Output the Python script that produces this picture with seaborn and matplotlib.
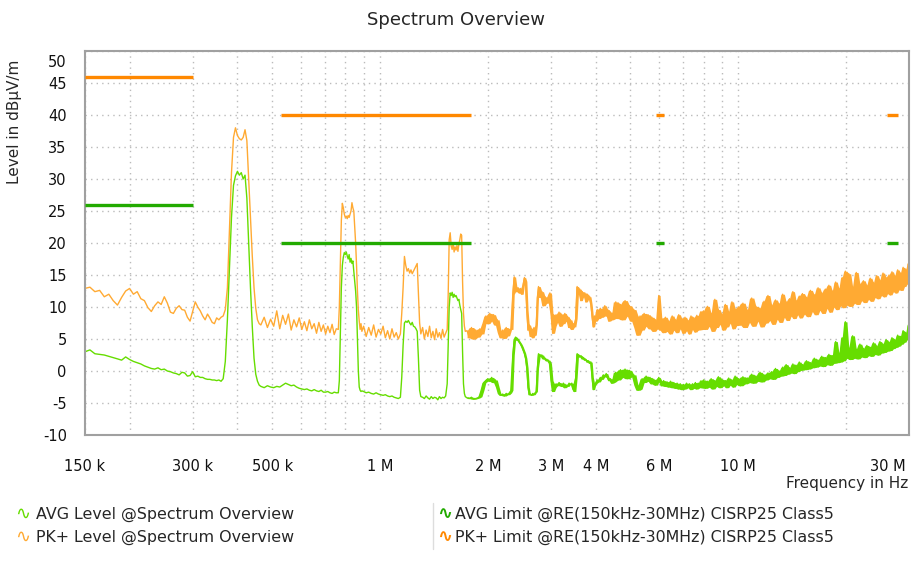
import matplotlib
matplotlib.use("Agg")
import matplotlib.pyplot as plt
import matplotlib.transforms as mtransforms
from matplotlib.ticker import FixedLocator, LogLocator, NullFormatter
import pandas as pd
import seaborn as sns

# spectrum trace (frequency in MHz, level in dBuV/m)
freq_mhz = [
    # 150 k .. 370 k
    0.150, 0.155, 0.160, 0.165, 0.170, 0.175, 0.180, 0.185, 0.190, 0.195,
    0.200, 0.205, 0.210, 0.215, 0.220, 0.225, 0.230, 0.235, 0.240, 0.245,
    0.250, 0.255, 0.260, 0.265, 0.270, 0.275, 0.280, 0.285, 0.290, 0.295,
    0.300, 0.305, 0.310, 0.315, 0.320, 0.325, 0.330, 0.335, 0.340, 0.345,
    0.350, 0.355, 0.360, 0.365, 0.370,
    # first carrier
    0.375, 0.380, 0.385, 0.390, 0.395, 0.400, 0.405, 0.410, 0.415, 0.420,
    0.425, 0.430, 0.435, 0.440, 0.445, 0.450, 0.455, 0.460,
    0.465, 0.475, 0.485, 0.495, 0.505, 0.515, 0.525, 0.535, 0.545, 0.555,
    0.565, 0.575, 0.585, 0.595, 0.605, 0.615, 0.625, 0.635, 0.645, 0.655,
    0.665, 0.675, 0.685, 0.695, 0.705, 0.715, 0.725, 0.735, 0.745, 0.755,
    # second carrier
    0.765, 0.770, 0.775, 0.780, 0.785, 0.790, 0.795, 0.800, 0.805, 0.810,
    0.815, 0.820, 0.825, 0.830, 0.835, 0.840, 0.845, 0.850, 0.855, 0.860,
    0.865, 0.870, 0.875, 0.880, 0.885, 0.890,
    0.900, 0.915, 0.930, 0.945, 0.960, 0.975, 0.990, 1.005, 1.020, 1.035,
    1.050, 1.065, 1.080, 1.095, 1.110, 1.125, 1.140, 1.150,
    # third carrier
    1.160, 1.170, 1.180, 1.190, 1.200, 1.210, 1.220, 1.230, 1.240, 1.250,
    1.260, 1.270, 1.280, 1.290, 1.300,
    1.315, 1.330, 1.345, 1.360, 1.375, 1.390, 1.405, 1.420, 1.435, 1.450,
    1.465, 1.480, 1.495, 1.510, 1.525, 1.540,
    # fourth carrier
    1.550, 1.560, 1.570, 1.580, 1.590, 1.600, 1.610, 1.620, 1.630, 1.640,
    1.650, 1.660, 1.670, 1.680, 1.690, 1.700, 1.710, 1.720, 1.730,
    1.750, 1.775, 1.800, 1.825, 1.850, 1.875, 1.900, 1.925, 1.950, 1.975,
    2.000, 2.025, 2.050, 2.075, 2.100, 2.125, 2.150, 2.175, 2.200, 2.225,
    2.250, 2.275, 2.300,
    2.330, 2.350, 2.370, 2.390, 2.410, 2.430, 2.450, 2.470, 2.490, 2.510,
    2.530, 2.550, 2.570, 2.590, 2.610, 2.630, 2.650, 2.670, 2.690, 2.710,
    2.730, 2.750,
    2.770, 2.800, 2.830, 2.860, 2.890, 2.920, 2.950, 2.980, 3.010, 3.040,
    3.070, 3.100, 3.130, 3.160, 3.190, 3.220, 3.250, 3.280, 3.310, 3.340,
    3.370, 3.400, 3.430, 3.460, 3.490, 3.520,
    3.550, 3.580, 3.610, 3.640, 3.670, 3.700, 3.730, 3.760, 3.790, 3.820,
    3.850, 3.880, 3.910, 3.940, 3.970, 4.000, 4.040, 4.080, 4.120, 4.160,
    4.200, 4.240, 4.280, 4.320, 4.360, 4.400, 4.440, 4.480,
    4.550, 4.620, 4.690, 4.760, 4.830, 4.900, 4.970, 5.040, 5.110, 5.180,
    5.250, 5.320, 5.390, 5.460, 5.530, 5.600, 5.670, 5.740, 5.810, 5.880,
    5.950, 6.000, 6.050, 6.120, 6.190, 6.260, 6.330, 6.400, 6.470, 6.540,
    6.610, 6.680, 6.750, 6.820, 6.890, 6.960, 7.030, 7.100, 7.170, 7.240,
    7.310, 7.380, 7.450, 7.520, 7.590, 7.660, 7.730, 7.800,
    # 8 .. 30 MHz
    8.0, 8.1, 8.2, 8.3, 8.4, 8.5, 8.6, 8.7, 8.8, 8.9,
    9.0, 9.1, 9.2, 9.3, 9.4, 9.5, 9.6, 9.7, 9.8, 9.9,
    10.0,
    10.15, 10.30, 10.45, 10.60, 10.75, 10.90, 11.05, 11.20, 11.35, 11.50,
    11.65, 11.80, 11.95, 12.10, 12.25, 12.40, 12.55, 12.70, 12.85, 13.00,
    13.15, 13.30, 13.45, 13.60, 13.75, 13.90, 14.05, 14.20, 14.35, 14.50,
    14.65, 14.80, 14.95, 15.10,
    15.3, 15.5, 15.7, 15.9, 16.1, 16.3, 16.5, 16.7, 16.9, 17.1,
    17.3, 17.5, 17.7, 17.9, 18.1, 18.3, 18.5, 18.7, 18.9, 19.1,
    19.3, 19.5, 19.7, 19.9, 20.1,
    20.35, 20.60, 20.85, 21.10, 21.35, 21.60, 21.85, 22.10, 22.35, 22.60,
    22.85, 23.10, 23.35, 23.60, 23.85, 24.10, 24.35, 24.60, 24.85, 25.10,
    25.35, 25.60, 25.85, 26.10, 26.35, 26.60, 26.85, 27.10, 27.35, 27.60,
    27.85, 28.10, 28.35, 28.60, 28.85, 29.10, 29.35, 29.60, 29.85, 30.00,
]

pk_level = [
    12.9, 13.1, 12.4, 12.6, 11.6, 12.0, 11.0, 10.3, 11.5, 12.5,
    12.9, 12.0, 12.4, 11.3, 11.0, 9.9, 9.3, 10.2, 10.8, 10.4,
    11.6, 10.6, 9.2, 9.0, 9.8, 10.2, 9.6, 9.5, 8.4, 7.8,
    9.3, 10.8, 10.0, 9.4, 8.6, 8.0, 8.9, 8.3, 7.6, 7.4,
    8.3, 8.0, 8.4, 8.6, 9.6,
    13.0, 22.0, 31.0, 36.5, 38.0, 36.8, 36.3, 36.1, 36.5, 37.7,
    36.0, 30.0, 24.0, 18.0, 13.0, 9.8, 8.0, 7.4,
    7.2, 8.4, 6.8, 8.1, 7.0, 9.4, 6.6, 8.7, 7.3, 8.9,
    6.4, 8.0, 6.9, 8.3, 6.5, 7.7, 6.3, 8.0, 6.6, 7.4,
    5.9, 7.6, 6.2, 7.2, 5.8, 7.0, 6.0, 7.3, 5.7, 6.6,
    6.5, 10.0, 17.0, 23.5, 26.2, 25.5, 24.5, 24.0, 24.2, 23.8,
    24.3, 24.0, 24.5, 25.0, 26.3, 25.5, 25.0, 22.5, 20.0, 16.5,
    12.5, 9.5, 7.8, 6.5, 7.4, 6.2,
    7.0, 5.4, 6.8, 5.6, 7.2, 5.3, 6.5, 5.8, 7.0, 5.2,
    6.3, 5.0, 6.6, 5.3, 6.0, 5.0, 5.8, 9.0,
    13.0, 17.9, 16.5, 15.6, 16.0, 15.3, 15.8, 15.2, 15.6, 16.0,
    16.4, 16.8, 12.0, 7.5, 5.8,
    6.8, 5.0, 6.4, 5.4, 7.0, 5.2, 6.2, 4.9, 6.6, 5.3,
    6.0, 5.1, 6.5, 5.3, 5.9, 6.5,
    12.0, 20.5, 21.6, 19.5, 19.0, 20.0, 18.6, 19.4, 18.9, 19.6,
    18.7, 19.8, 20.5, 21.4, 21.2, 14.0, 9.0, 7.0, 6.2,
    6.3, 5.2, 6.8, 5.0, 6.4, 5.3, 6.6, 5.8, 7.5, 8.6,
    7.4, 9.0, 7.8, 8.8, 7.2, 8.0, 6.0, 5.2, 6.4, 5.1,
    6.8, 5.5, 6.5,
    6.5, 12.0, 14.7, 13.2, 12.4, 13.0, 12.2, 12.9, 12.0, 13.5,
    14.6, 14.0, 9.5, 6.4, 7.2, 5.4, 6.6, 5.2, 6.8, 5.6,
    7.2, 11.5,
    13.2, 11.5, 12.4, 10.2, 11.6, 10.6, 11.0, 12.2, 9.0, 5.9,
    7.0, 8.8, 7.6, 9.2, 7.0, 8.8, 7.4, 9.0, 7.8, 8.5,
    6.8, 8.0, 6.5, 7.4, 6.9, 8.2,
    13.2, 12.0, 12.8, 11.0, 12.4, 11.6, 12.2, 10.8, 12.0, 11.2,
    11.6, 10.4, 8.5, 6.9, 8.6, 7.8, 9.6, 8.2, 9.8, 8.4,
    9.0, 10.2, 8.6, 9.6, 7.8, 9.2, 8.0, 8.5,
    10.8, 8.2, 10.4, 8.0, 11.0, 8.6, 10.2, 7.8, 9.6, 6.8,
    5.6, 8.6, 6.4, 9.0, 7.0, 8.8, 6.6, 8.4, 6.2, 8.0,
    6.6, 11.8, 6.4, 8.2, 6.0, 8.4, 6.2, 7.8, 5.8, 8.6,
    6.4, 8.0, 6.0, 8.8, 6.6, 8.2, 5.9, 8.4, 6.3, 7.9,
    5.8, 8.6, 6.5, 8.3, 6.1, 8.7, 6.4, 8.2,
    9.4, 6.5, 10.1, 7.0, 9.0, 6.2, 11.2, 6.8, 9.6, 7.3,
    8.9, 6.4, 10.4, 6.9, 9.3, 7.5, 10.8, 6.6, 9.7, 7.1,
    10.0,
    7.2, 10.6, 6.8, 9.5, 7.6, 11.4, 7.0, 10.1, 7.8, 9.8,
    6.9, 10.9, 7.5, 11.8, 7.9, 10.3, 7.3, 11.1, 8.1, 10.5,
    7.6, 12.0, 8.4, 10.8, 7.9, 11.3, 8.6, 12.4, 8.2, 11.0,
    8.8, 11.7, 8.3, 12.1,
    8.9, 11.5, 8.5, 12.6, 9.3, 11.9, 8.8, 13.0, 9.5, 12.2,
    9.0, 12.8, 9.8, 13.4, 9.2, 12.5, 10.0, 13.9, 9.6, 12.9,
    10.2, 14.6, 9.9, 15.6, 10.3,
    15.2, 10.1, 13.2, 10.6, 15.4, 10.4, 13.6, 11.0, 14.1, 10.7,
    13.4, 11.2, 14.5, 10.9, 13.8, 11.5, 14.9, 11.3, 14.2, 11.8,
    15.3, 11.6, 14.6, 12.1, 15.0, 11.9, 15.5, 12.4, 14.9, 12.2,
    15.8, 12.7, 15.3, 12.6, 16.2, 13.2, 15.9, 13.6, 16.8, 15.6,
]

avg_level = [
    3.0, 3.3, 2.7, 2.6, 2.5, 2.3, 2.1, 1.9, 1.7, 2.2,
    1.8, 1.5, 1.3, 1.1, 0.8, 0.6, 0.4, 0.3, 0.5, 0.2,
    0.3, 0.0, -0.1, -0.3, -0.4, -0.6, -0.2, -0.3, -0.8, -0.7,
    -0.1, -0.9, -0.8, -1.0, -1.0, -1.2, -1.3, -1.3, -1.4, -1.4,
    -1.5, -1.4, -1.6, -1.2, 1.5,
    8.0, 16.0, 24.0, 29.0, 30.5, 31.2, 30.6, 31.0, 30.0, 30.6,
    27.0, 20.0, 13.0, 7.0, 2.0, -0.5, -1.6, -2.2,
    -2.4, -2.6, -2.3, -2.5, -2.6, -2.4, -2.5, -2.2, -1.9, -2.1,
    -2.3, -2.2, -2.5, -2.7, -2.8, -2.9, -2.8, -3.0, -3.1, -2.9,
    -3.1, -3.2, -3.0, -3.3, -3.3, -3.2, -3.4, -3.5, -3.3, -3.4,
    -3.4, -1.5, 6.0, 13.0, 16.5, 17.8, 18.5, 18.2, 18.6, 18.0,
    17.5, 18.2, 17.0, 17.6, 16.8, 17.2, 15.5, 14.0, 12.5, 10.0,
    5.0, 0.0, -2.5, -3.0, -3.2, -3.1,
    -3.2, -3.4, -3.3, -3.5, -3.6, -3.4, -3.6, -3.7, -3.8, -3.7,
    -3.9, -4.0, -3.9, -4.1, -4.2, -4.3, -4.1, -1.0,
    4.0, 7.5, 7.8, 7.6, 7.9, 7.5, 7.2, 7.6, 7.0, 6.9,
    6.6, 6.2, 2.0, -3.0, -4.0,
    -4.1, -4.3, -3.9, -4.2, -4.4, -4.0, -4.3, -4.1, -4.2, -4.5,
    -4.0, -4.3, -4.1, -4.2, -3.9, -2.0,
    4.0, 10.0, 12.2, 11.8, 12.3, 11.5, 12.0, 11.6, 11.8, 11.4,
    11.0, 11.2, 10.3, 9.6, 9.0, 3.0, -2.0, -3.5, -4.0,
    -4.2, -4.3, -4.1, -4.4, -4.3, -4.2, -4.0, -3.0, -1.8, -1.5,
    -1.2, -1.6, -1.0, -1.8, -1.4, -2.5, -3.5, -3.8, -3.6, -3.9,
    -3.5, -3.7, -3.4,
    -3.0, 2.5, 4.8, 5.3, 5.1, 4.8, 4.5, 4.2, 3.8, 3.3,
    2.8, 2.0, 0.5, -2.5, -3.7, -3.6, -3.8, -3.5, -3.7, -3.4,
    -3.2, 0.5,
    2.7, 2.3, 2.5, 1.9, 2.0, 1.6, 1.7, 1.2, -1.5, -3.2,
    -2.6, -2.0, -2.3, -1.8, -2.1, -2.4, -1.9, -2.6, -2.2, -2.4,
    -1.9, -2.1, -1.9, -2.8, -3.2, -1.0,
    2.7, 2.5, 2.2, 2.4, 1.9, 2.1, 1.7, 1.8, 1.4, 1.6,
    1.2, 1.4, -1.0, -2.9, -2.2, -1.9, -1.4, -1.7, -1.0, -1.3,
    -0.6, -0.9, -0.4, -1.0, -1.5, -1.2, -1.9, -1.7,
    -0.2, -1.4, 0.2, -1.0, 0.3, -1.2, 0.1, -0.9, -0.6, -2.2,
    -3.0, -2.8, -1.2, -1.8, -0.8, -1.6, -1.0, -2.0, -1.3, -2.2,
    -1.6, -1.0, -1.7, -2.3, -1.5, -2.4, -1.7, -2.5, -1.6, -2.6,
    -1.8, -2.7, -1.9, -2.8, -2.0, -2.9, -2.1, -2.8, -1.9, -2.6,
    -2.0, -2.9, -2.0, -2.7, -1.8, -2.8, -1.9, -2.6,
    -1.4, -2.7, -1.6, -2.5, -1.2, -2.8, -1.5, -2.4, -0.9, -2.6,
    -1.3, -2.3, -1.5, -2.6, -1.1, -2.2, -1.4, -2.5, -0.8, -2.1,
    -1.2,
    -2.3, -0.9, -2.0, -1.1, -1.8, -0.5, -1.9, -0.8, -1.6, -0.2,
    -1.7, -0.6, -1.4, -0.3, -1.2, -0.1, -1.3, 0.4, -1.0, 0.0,
    -0.8, 0.6, -0.7, 1.0, -0.5, 0.5, -0.3, 1.1, -0.4, 0.9,
    -0.1, 1.4, 0.1, 1.0,
    0.2, 1.6, 0.3, 1.3, 0.5, 2.0, 0.6, 1.7, 0.8, 2.3,
    0.7, 2.1, 1.0, 2.6, 0.9, 2.4, 1.2, 4.6, 1.3, 2.8,
    1.4, 5.2, 1.6, 7.7, 2.0,
    3.6, 1.8, 5.5, 2.0, 3.4, 1.9, 4.2, 2.2, 3.5, 2.1,
    4.0, 2.4, 3.7, 2.3, 4.4, 2.6, 3.9, 2.5, 4.6, 2.8,
    4.2, 2.9, 4.9, 3.1, 4.5, 3.2, 5.2, 3.5, 4.9, 3.7,
    5.6, 3.9, 5.4, 4.2, 6.3, 4.5, 6.0, 4.9, 7.2, 5.6,
]

# CISPR 25 class 5 limit bands
limit_start_mhz = [0.15, 0.53, 5.9, 26.0]
limit_stop_mhz = [0.30, 1.80, 6.2, 28.0]
pk_limit = [46, 40, 40, 40]
avg_limit = [26, 20, 20, 20]

xtick_hz = [150e3, 300e3, 500e3, 1e6, 2e6, 3e6, 4e6, 6e6, 10e6, 30e6]
xtick_labels = ["150 k", "300 k", "500 k", "1 M", "2 M", "3 M", "4 M", "6 M", "10 M", "30 M"]
ytick_vals = list(range(-10, 51, 5))

legend_labels = ["AVG Level @Spectrum Overview",
                 "PK+ Level @Spectrum Overview",
                 "AVG Limit @RE(150kHz-30MHz) CISRP25 Class5",
                 "PK+ Limit @RE(150kHz-30MHz) CISRP25 Class5"]

AVG_C = "#66dd00"
PK_C = "#ffaa33"
AVG_LIM_C = "#22aa00"
PK_LIM_C = "#ff8800"
GRID_C = "#bbbbbb"
FRAME_C = "#a0a0a0"

assert len(freq_mhz) == len(pk_level) == len(avg_level)

sns.set_style("white")
plt.rcParams["font.family"] = ["DejaVu Sans"]

df = pd.DataFrame({"freq": [f * 1e6 for f in freq_mhz], "pk": pk_level, "avg": avg_level})

fig = plt.figure(figsize=(9.24, 5.66), dpi=100)
ax = fig.add_axes([0.0918, 0.2314, 0.8922, 0.6785])
ax.set_xscale("log")

sns.lineplot(data=df, x="freq", y="pk", color=PK_C, lw=1.0, estimator=None, sort=False, ax=ax)
sns.lineplot(data=df, x="freq", y="avg", color=AVG_C, lw=1.0, estimator=None, sort=False, ax=ax)

# above ~1.75 MHz the trace is a dense band: close the gaps between neighbouring samples
dense = df["freq"] >= 1.75e6
for col, c in (("pk", PK_C), ("avg", AVG_C)):
    hi_env = df[col].rolling(3, center=True, min_periods=1).max()
    lo_env = df[col].rolling(3, center=True, min_periods=1).min()
    ax.fill_between(df["freq"], lo_env, hi_env, where=dense, color=c, lw=0)

lo = [f * 1e6 for f in limit_start_mhz]
hi = [f * 1e6 for f in limit_stop_mhz]
ax.hlines(pk_limit, lo, hi, color=PK_LIM_C, lw=2.4, zorder=4)
ax.hlines(avg_limit, lo, hi, color=AVG_LIM_C, lw=2.4, zorder=4)

ax.set_xlim(150e3, 30e6)
ax.set_ylim(-10, 50)

ax.xaxis.set_major_locator(FixedLocator(xtick_hz))
ax.set_xticklabels(xtick_labels)
ax.xaxis.set_minor_locator(LogLocator(base=10, subs=range(1, 10), numticks=20))
ax.xaxis.set_minor_formatter(NullFormatter())
ax.set_yticks(ytick_vals)
ax.set_yticklabels([str(v) for v in ytick_vals])

ax.grid(True, which="both", axis="x", color=GRID_C, lw=1.0, linestyle=(0, (1, 3)))
ax.grid(True, which="major", axis="y", color=GRID_C, lw=1.0, linestyle=(0, (1, 3)))
ax.set_axisbelow(True)

ax.tick_params(axis="both", which="major", direction="out", length=9, width=1.2,
               color=FRAME_C, labelsize=10.5, labelcolor="#111111")
ax.tick_params(axis="x", which="major", pad=8)
ax.tick_params(axis="y", which="major", pad=4)
ax.tick_params(axis="x", which="minor", length=0)
for s in ax.spines.values():
    s.set_color(FRAME_C)
    s.set_linewidth(1.5)

# last x label hugs the right edge, top y label sits a bit low
xl = ax.get_xticklabels()[-1]
xl.set_ha("right")
xl.set_transform(xl.get_transform() + mtransforms.ScaledTranslation(-0.04, 0, fig.dpi_scale_trans))
yl = ax.get_yticklabels()[-1]
yl.set_transform(yl.get_transform() + mtransforms.ScaledTranslation(0, -0.1, fig.dpi_scale_trans))

ax.set_xlabel("")
ax.set_ylabel("")

fig.text(0.4935, 0.965, "Spectrum Overview", ha="center", va="center", fontsize=13)
fig.text(0.0152, 0.894, "Level in dBµV/m", rotation=90, ha="center", va="top", fontsize=11)
fig.text(0.9827, 0.145, "Frequency in Hz", ha="right", va="center", fontsize=11)

# legend below the plot
LEG_FS = 11.4
rows = [0.092, 0.051]
fig.text(0.016, rows[0], "∿", color=AVG_C, fontsize=13, ha="left", va="center")
fig.text(0.039, rows[0], legend_labels[0], fontsize=LEG_FS, ha="left", va="center")
fig.text(0.016, rows[1], "∿", color=PK_C, fontsize=13, ha="left", va="center")
fig.text(0.039, rows[1], legend_labels[1], fontsize=LEG_FS, ha="left", va="center")
fig.add_artist(plt.Line2D([0.4686, 0.4686], [0.03, 0.112], color="#dddddd", lw=1.0))
fig.text(0.473, rows[0], "∿", color=AVG_LIM_C, fontsize=13, fontweight="bold", ha="left", va="center")
fig.text(0.492, rows[0], legend_labels[2], fontsize=LEG_FS, ha="left", va="center")
fig.text(0.473, rows[1], "∿", color=PK_LIM_C, fontsize=13, fontweight="bold", ha="left", va="center")
fig.text(0.492, rows[1], legend_labels[3], fontsize=LEG_FS, ha="left", va="center")

fig.savefig("out.png", dpi=100, facecolor="white")
